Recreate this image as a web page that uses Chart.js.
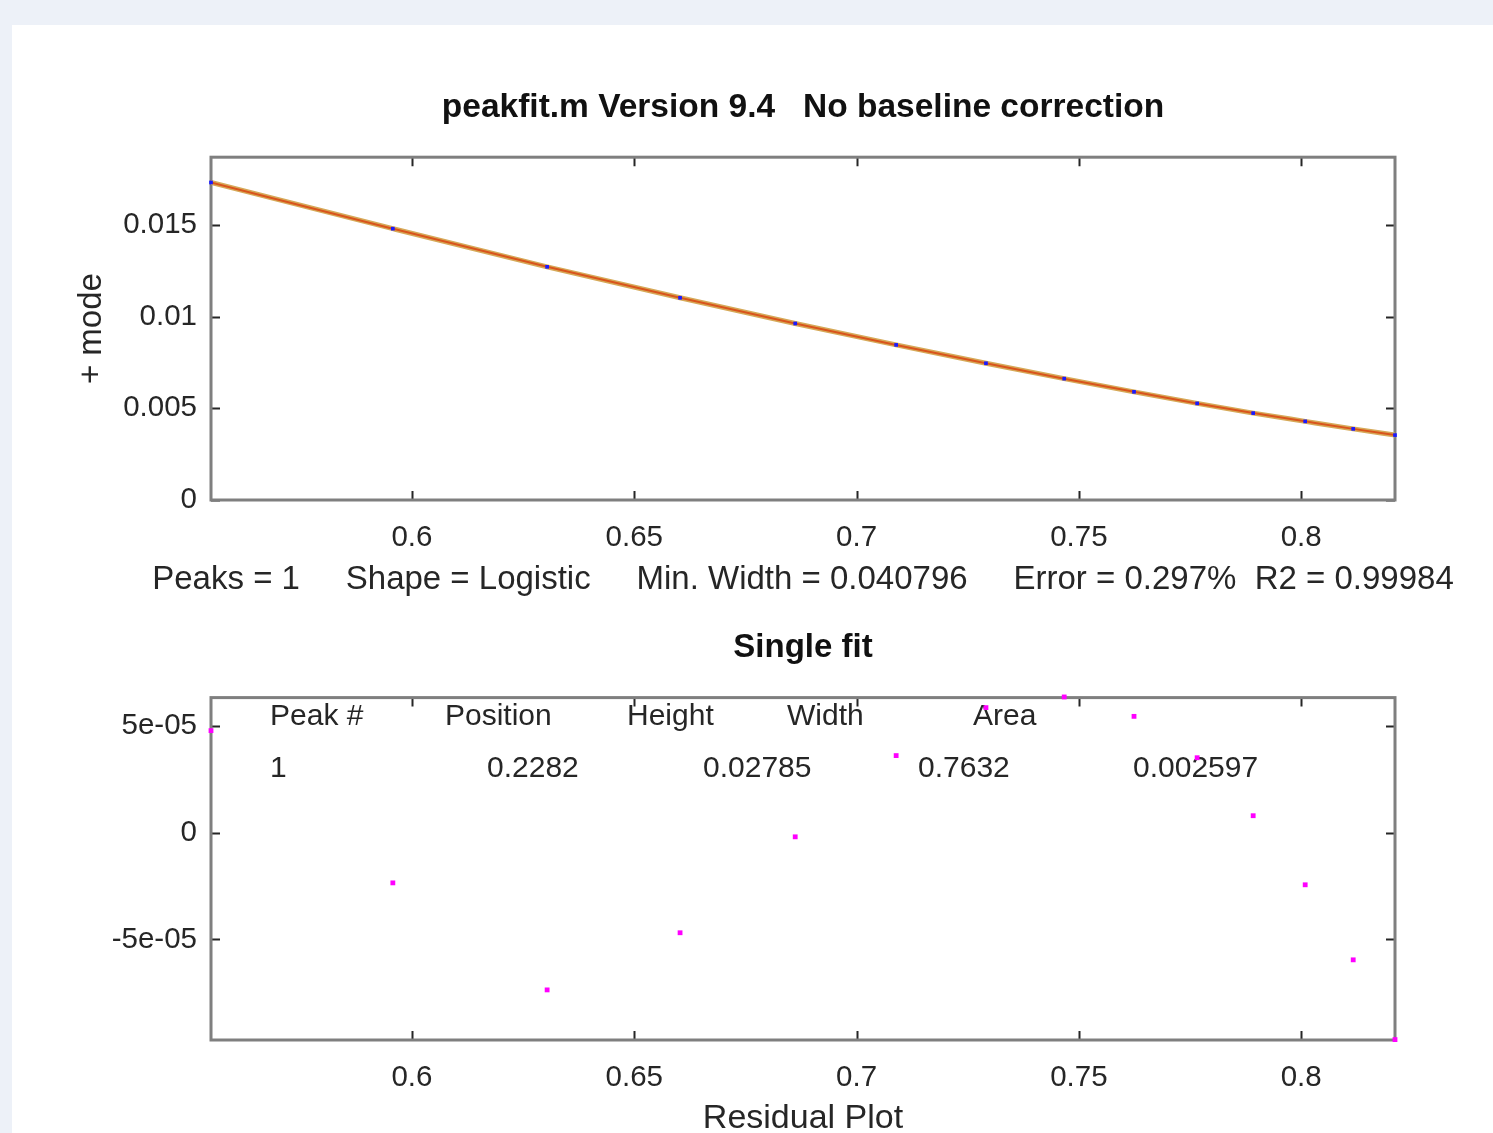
<!DOCTYPE html>
<html>
<head>
<meta charset="utf-8">
<script src="https://cdn.jsdelivr.net/npm/chart.js@4"></script>
<style>
  html, body { margin: 0; padding: 0; width: 1493px; height: 1133px; overflow: hidden; background: #edf1f8; }
  #panel { position: absolute; left: 12px; top: 25px; right: 0; bottom: 0; background: #ffffff; }
  #fitWrap { position: absolute; left: 0; top: 0; width: 1536px; height: 600px; }
  #resWrap { position: absolute; left: 0; top: 600px; width: 1536px; height: 540px; }
</style>
</head>
<body>
<div id="panel"></div>
<div id="fitWrap"><canvas id="fitChart"></canvas></div>
<div id="resWrap"><canvas id="resChart"></canvas></div>
<script>
// x positions of the samples
const xValues = [0.5548, 0.5957, 0.6304, 0.6603, 0.6862, 0.7089, 0.7291, 0.7467, 0.7624, 0.7766, 0.7892, 0.8009, 0.8117, 0.8211];
// "+ mode" signal (blue points; the orange fit runs through them)
const modeValues = [0.01732, 0.01480, 0.01272, 0.01103, 0.00963, 0.00846, 0.00746, 0.00662, 0.00590, 0.00527, 0.00474, 0.00429, 0.00388, 0.00354];
// residuals (magenta points)
const residualValues = [4.79e-5, -2.35e-5, -7.37e-5, -4.69e-5, -0.19e-5, 3.62e-5, 5.87e-5, 6.37e-5, 5.46e-5, 3.52e-5, 0.8e-5, -2.44e-5, -5.96e-5, -9.7e-5];

const xTicks = [0.6, 0.65, 0.7, 0.75, 0.8];
const xTickLabels = ['0.6', '0.65', '0.7', '0.75', '0.8'];
const fitYTicks = [0, 0.005, 0.01, 0.015];
const fitYTickLabels = ['0', '0.005', '0.01', '0.015'];
const resYTicks = [-5e-5, 0, 5e-5];
const resYTickLabels = ['-5e-05', '0', '5e-05'];

const tableHeaders = ['Peak #', 'Position', 'Height', 'Width', 'Area'];
const tableValues = ['1', '0.2282', '0.02785', '0.7632', '0.002597'];

const statsLine = 'Peaks = 1     Shape = Logistic     Min. Width = 0.040796     Error = 0.297%  R2 = 0.99984';

const FONT = "'Liberation Sans', Helvetica, Arial, sans-serif";
const TEXT = '#262626';

const boxFrame = {
  id: 'boxFrame',
  beforeDatasetsDraw(chart) {
    const { ctx, chartArea: a, scales: { x, y } } = chart;
    ctx.save();
    ctx.strokeStyle = '#262626';
    ctx.lineWidth = 2;
    ctx.beginPath();
    x.ticks.forEach(t => {
      const px = Math.round(x.getPixelForValue(t.value)) + 0.5;
      ctx.moveTo(px, a.bottom); ctx.lineTo(px, a.bottom - 9);
      ctx.moveTo(px, a.top); ctx.lineTo(px, a.top + 9);
    });
    y.ticks.forEach(t => {
      const py = Math.round(y.getPixelForValue(t.value)) + 0.5;
      ctx.moveTo(a.left, py); ctx.lineTo(a.left + 9, py);
      ctx.moveTo(a.right, py); ctx.lineTo(a.right - 9, py);
    });
    ctx.stroke();
    ctx.strokeStyle = '#7f7f7f';
    ctx.lineWidth = 3;
    ctx.strokeRect(a.left, a.top, a.width, a.height);
    ctx.restore();
  }
};

// fit summary line under the top plot (wider than the plot, so not an axis title)
const statsText = {
  id: 'statsText',
  afterDraw(chart) {
    const { ctx, chartArea: a } = chart;
    ctx.save();
    ctx.font = '33px ' + FONT;
    ctx.fillStyle = TEXT;
    ctx.textAlign = 'center';
    ctx.textBaseline = 'middle';
    ctx.fillText(statsLine, (a.left + a.right) / 2, a.bottom + 80);
    ctx.restore();
  }
};

// peak table written inside the residual plot
const peakTable = {
  id: 'peakTable',
  beforeDatasetsDraw(chart) {
    const { ctx, chartArea: a } = chart;
    const headX = [59, 234, 416, 576, 762];
    const valX = [59, 276, 492, 707, 922];
    ctx.save();
    ctx.font = '30px ' + FONT;
    ctx.fillStyle = TEXT;
    ctx.textBaseline = 'middle';
    ctx.textAlign = 'left';
    tableHeaders.forEach((h, i) => ctx.fillText(h, a.left + headX[i], a.top + 19));
    tableValues.forEach((v, i) => ctx.fillText(v, a.left + valX[i], a.top + 71));
    ctx.restore();
  }
};

function xAxis(titleText, titleSize, titlePad) {
  return {
    type: 'linear',
    min: 0.5548,
    max: 0.8211,
    afterBuildTicks: s => { s.ticks = xTicks.map(v => ({ value: v })); },
    afterFit: s => { s.height = 100; },
    grid: { display: false, drawTicks: false },
    border: { display: false },
    ticks: {
      padding: 20,
      color: TEXT,
      font: { family: FONT, size: 29.5 },
      callback: v => xTickLabels[xTicks.indexOf(v)]
    },
    title: {
      display: !!titleText,
      text: titleText || '',
      color: TEXT,
      font: { family: FONT, size: titleSize },
      padding: { top: 0, bottom: titlePad }
    }
  };
}

function yAxis(min, max, ticks, labels, titleText) {
  return {
    type: 'linear',
    min: min,
    max: max,
    afterBuildTicks: s => { s.ticks = ticks.map(v => ({ value: v })); },
    afterFit: s => { s.width = 141; },
    grid: { display: false, drawTicks: false },
    border: { display: false },
    ticks: {
      padding: 14,
      color: TEXT,
      font: { family: FONT, size: 29.5 },
      callback: v => labels[ticks.indexOf(v)]
    },
    title: {
      display: !!titleText,
      text: titleText || '',
      color: TEXT,
      font: { family: FONT, size: 33 },
      padding: { top: 2, bottom: 0 }
    }
  };
}

// empty right-hand box, same width as the left axis, so the titles centre on the plot
const spacerAxis = {
  type: 'linear',
  position: 'right',
  afterFit: s => { s.width = 141; },
  grid: { display: false, drawTicks: false },
  border: { display: false },
  ticks: { display: false }
};

const points = (ys) => xValues.map((x, i) => ({ x: x, y: ys[i] }));

new Chart(document.getElementById('fitChart'), {
  type: 'scatter',
  data: {
    datasets: [
      {
        label: 'data',
        data: points(modeValues),
        pointStyle: 'rect',
        pointRadius: 2.6,
        backgroundColor: '#1a1aff',
        borderWidth: 0,
        clip: false
      },
      {
        label: 'fit',
        type: 'line',
        data: points(modeValues),
        borderColor: '#d9541c',
        borderWidth: 2,
        pointRadius: 0,
        cubicInterpolationMode: 'monotone'
      },
      {
        label: 'fit halo',
        type: 'line',
        data: points(modeValues),
        borderColor: '#d6a958',
        borderWidth: 5,
        pointRadius: 0,
        cubicInterpolationMode: 'monotone'
      }
    ]
  },
  options: {
    responsive: true,
    maintainAspectRatio: false,
    animation: false,
    layout: { padding: { left: 70, right: 0, top: 0, bottom: 0 } },
    plugins: {
      legend: { display: false },
      tooltip: { enabled: false },
      title: {
        display: true,
        text: 'peakfit.m Version 9.4   No baseline correction',
        color: '#111111',
        font: { family: FONT, size: 33.5, weight: 'bold' },
        padding: { top: 88, bottom: 29 }
      }
    },
    scales: {
      x: xAxis('', 32, 3),
      y: yAxis(0, 0.0187, fitYTicks, fitYTickLabels, '+ mode'),
      spacer: spacerAxis
    }
  },
  plugins: [boxFrame, statsText]
});

new Chart(document.getElementById('resChart'), {
  type: 'scatter',
  data: {
    datasets: [
      {
        label: 'residuals',
        data: points(residualValues),
        pointStyle: 'rect',
        pointRadius: 3.4,
        backgroundColor: '#ff00ff',
        borderWidth: 0,
        clip: false
      }
    ]
  },
  options: {
    responsive: true,
    maintainAspectRatio: false,
    animation: false,
    layout: { padding: { left: 70, right: 0, top: 0, bottom: 0 } },
    plugins: {
      legend: { display: false },
      tooltip: { enabled: false },
      title: {
        display: true,
        text: 'Single fit',
        color: '#111111',
        font: { family: FONT, size: 33, weight: 'bold' },
        padding: { top: 28, bottom: 30 }
      }
    },
    scales: {
      x: xAxis('Residual Plot', 34, 1),
      y: yAxis(-9.72e-5, 6.34e-5, resYTicks, resYTickLabels, ''),
      spacer: spacerAxis
    }
  },
  plugins: [boxFrame, peakTable]
});
</script>
</body>
</html>
